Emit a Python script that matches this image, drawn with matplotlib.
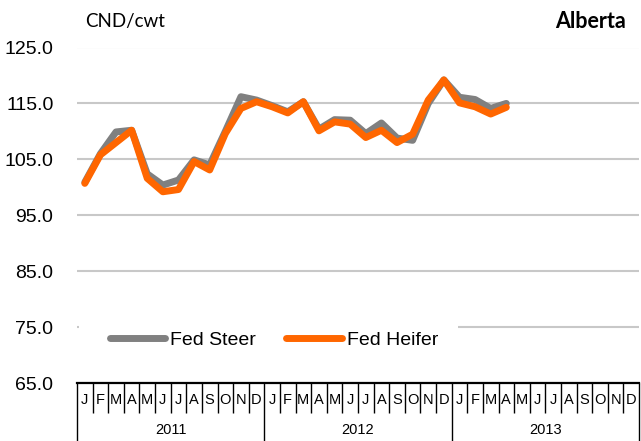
import matplotlib
matplotlib.use("Agg")
import matplotlib.pyplot as plt
from matplotlib.patches import Rectangle
import numpy as np

months = ['J', 'F', 'M', 'A', 'M', 'J', 'J', 'A', 'S', 'O', 'N', 'D'] * 3
years = ['2011', '2012', '2013']
yticks = [65.0, 75.0, 85.0, 95.0, 105.0, 115.0, 125.0]

fed_steer = [100.9, 106.0, 109.9, 110.2, 102.4, 100.4, 101.3, 104.9, 104.0, 110.0, 116.2, 115.6,
             114.6, 113.5, 115.3, 110.4, 112.1, 112.0, 109.6, 111.5, 108.8, 108.4, 115.0, 119.2,
             116.1, 115.7, 114.1, 115.0]
fed_heifer = [100.7, 105.8, 108.0, 110.2, 101.6, 99.2, 99.6, 104.6, 103.1, 109.6, 114.1, 115.3,
              114.4, 113.3, 115.3, 110.1, 111.7, 111.3, 108.9, 110.2, 108.0, 109.5, 115.6, 119.2,
              115.1, 114.4, 113.1, 114.3]

W, H = 641, 441
fig = plt.figure(figsize=(W / 100, H / 100), dpi=100)
left, right, top, bottom = 77, 639, 47.5, 383
ax = fig.add_axes([left / W, 1 - bottom / H, (right - left) / W, (bottom - top) / H])
axw = right - left
axh = bottom - top

n = len(months)
ax.set_xlim(-0.5, n - 0.5)
ax.set_ylim(65, 125)
ax.set_yticks(yticks)
ax.set_yticklabels([f'{v:.1f}' for v in yticks], fontsize=14, family='Liberation Sans')
ax.tick_params(axis='y', length=0, pad=17)
ax.set_xticks([])
for s in ['left', 'right', 'top']:
    ax.spines[s].set_visible(False)
ax.spines['bottom'].set_linewidth(1.6)
ax.spines['bottom'].set_color('black')
ax.grid(axis='y', color='#c8c8c8', lw=1.5)
ax.set_axisbelow(True)

x = np.arange(len(fed_steer))
ax.plot(x, fed_steer, color='#808080', lw=5, label='Fed Steer', clip_on=False, zorder=3,
        solid_capstyle='round', solid_joinstyle='round')
ax.plot(x, fed_heifer, color='#FF6600', lw=5, label='Fed Heifer', clip_on=False, zorder=4,
        solid_capstyle='round', solid_joinstyle='round')

trans = ax.get_xaxis_transform()
for i, m in enumerate(months):
    ax.text(i, -17 / axh, m, transform=trans, ha='center', va='center',
            fontsize=10.5, family='Liberation Sans', clip_on=False)
for i in range(n + 1):
    if i % 12 == 0:
        y1 = -(H - bottom) / axh
    else:
        y1 = -30 / axh
    ax.plot([i - 0.5, i - 0.5], [0, y1], transform=trans, color='black', lw=1.0,
            clip_on=False, solid_capstyle='butt')
for k, yr in enumerate(years):
    ax.text(12 * k + 5.5, -47 / axh, yr, transform=trans, ha='center', va='center',
            fontsize=10.5, family='Liberation Sans', clip_on=False)

# white legend background hiding the gridline
ax.add_patch(Rectangle(((79 - left) / axw, (bottom - 362) / axh), (458 - 79) / axw, 44 / axh,
                       transform=ax.transAxes, facecolor='white', edgecolor='none', zorder=2))

leg = ax.legend(loc='center left', bbox_to_anchor=((110 - left) / axw, (bottom - 340) / axh),
                ncol=2, frameon=False, handlelength=2.83, handletextpad=0.28,
                columnspacing=1.55, borderpad=0.0, borderaxespad=0.0,
                prop={'family': 'Liberation Sans', 'size': 14})

fig.text(85 / W, 1 - 22 / H, 'CND/cwt', fontsize=13.5, family='Lato', va='center', ha='left')
fig.text(626 / W, 1 - 22 / H, 'Alberta', fontsize=15.5, family='Lato', fontweight='bold',
         va='center', ha='right')

fig.savefig('out.png', dpi=100)
